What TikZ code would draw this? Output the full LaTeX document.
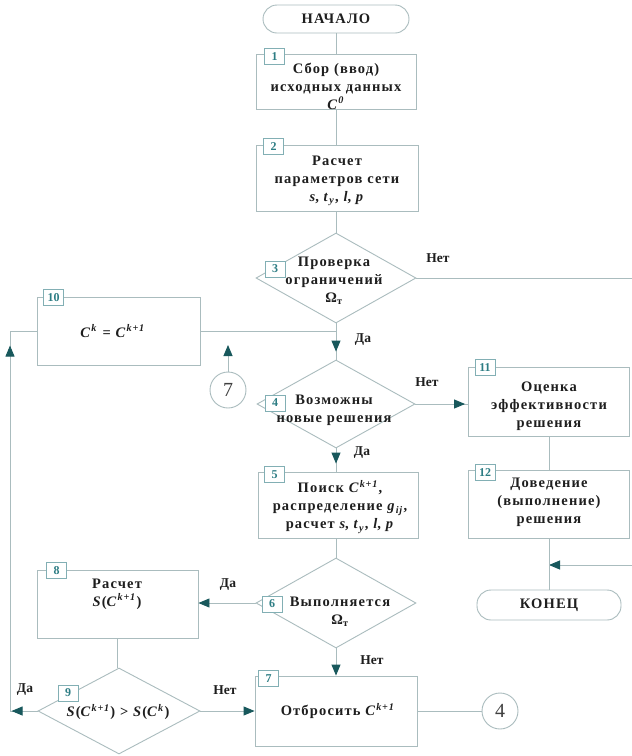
\documentclass[tikz,border=0pt]{standalone}
\usepackage{fontspec}
\setmainfont{Liberation Serif}
\usetikzlibrary{shapes.geometric,arrows.meta,decorations.markings}
\definecolor{ln}{RGB}{170,188,190}
\definecolor{tealnum}{RGB}{45,125,132}
\definecolor{numbd}{RGB}{130,175,180}
\definecolor{arr}{RGB}{24,88,92}
\definecolor{txt}{RGB}{30,30,30}
\newcommand\Cv[1]{\textit{C}\textsuperscript{\textit{#1}}}
\newcommand\Om{Ω\textsubscript{т}}
\begin{document}
\begin{tikzpicture}[x=1pt,y=-1pt,
  every node/.style={text=txt},
  tx/.style={align=center,font=\fontsize{14.5}{18}\selectfont\bfseries\addfontfeature{LetterSpace=8}},
  lab/.style={font=\fontsize{13.5}{14}\selectfont\bfseries},
  box/.style={draw=ln,line width=0.9pt,fill=white,inner sep=0pt},
  dia/.style={draw=ln,line width=0.9pt,fill=white,diamond,inner sep=0pt},
  term/.style={draw=ln,line width=0.9pt,fill=white,rounded corners=14pt,inner sep=0pt},
  num/.style={draw=numbd,fill=white,line width=0.8pt,text=tealnum,font=\fontsize{12}{12}\selectfont\bfseries,minimum width=20pt,minimum height=16pt,inner sep=0pt},
  conn/.style={draw=ln,line width=0.9pt},
  tip/.style={-{Triangle[length=11pt,width=9pt,color=arr]}},
  arrowat/.style={postaction={decorate,decoration={markings,mark=at position #1 with {\arrow{Triangle[length=11pt,width=9pt,color=arr]}}}}},
  circ/.style={draw=ln,line width=0.9pt,fill=white,circle,minimum size=36pt,inner sep=0pt,font=\fontsize{20}{20}\selectfont,text=black!75}
]
\useasboundingbox[fill=white] (0,0) rectangle (632,756);

% shapes
\node[term,minimum width=146pt,minimum height=28pt] (start) at (336,19) {};
\node[box,minimum width=160pt,minimum height=55pt] (b1) at (336,82) {};
\node[box,minimum width=162pt,minimum height=66pt] (b2) at (337,178) {};
\node[dia,minimum width=160pt,minimum height=90pt] (d3) at (336,278) {};
\node[box,minimum width=163pt,minimum height=68pt] (b10) at (118.5,331) {};
\node[circ] (c7) at (228,390) {7};
\node[dia,minimum width=158pt,minimum height=88pt] (d4) at (336,404) {};
\node[box,minimum width=161pt,minimum height=69pt] (b11) at (549,402) {};
\node[box,minimum width=161pt,minimum height=68pt] (b12) at (549,504) {};
\node[box,minimum width=160pt,minimum height=66pt] (b5) at (338,505) {};
\node[term,minimum width=144pt,minimum height=30pt] (end) at (549,605) {};
\node[dia,minimum width=160pt,minimum height=90pt] (d6) at (336,603) {};
\node[box,minimum width=161pt,minimum height=68pt] (b8) at (117.5,604) {};
\node[dia,minimum width=162pt,minimum height=86pt] (d9) at (119,711) {};
\node[box,minimum width=162pt,minimum height=70pt] (b7) at (336,711) {};
\node[circ] (c4) at (500,711) {4};

% coordinates
\coordinate (e3) at (632,278);
\coordinate (r5) at (632,565);
\coordinate (j12) at (549,565);
\coordinate (j10) at (336,331);
\coordinate (cl1) at (10,711);
\coordinate (cl2) at (10,331);
\coordinate (c7up) at (228,345);

% connectors
\draw[conn] (start.south) -- (b1.north);
\draw[conn] (b1.south) -- (b1.south |- b2.north);
\draw[conn] (d3.north |- b2.south) -- (d3.north);
\draw[conn] (d3.east) -- (e3);
\draw[conn,tip] (r5) -- (j12);
\draw[conn] (b11.south) -- (b12.north);
\draw[conn] (b12.south) -- (end.north);
\draw[conn,arrowat=-8pt] (d3.south) -- (d4.north);
\draw[conn] (b10.east) -- (j10);
\draw[conn,tip] (c7.north) -- (c7up);
\draw[conn,arrowat=-3pt] (d4.east) -- (d4.east -| b11.west);
\draw[conn,arrowat=-8pt] (d4.south) -- (d4.south |- b5.north);
\draw[conn] (d6.north |- b5.south) -- (d6.north);
\draw[conn,tip] (d6.west) -- (d6.west -| b8.east);
\draw[conn,tip] (d6.south) -- (b7.north);
\draw[conn] (b8.south) -- (b8.south |- d9.north);
\draw[conn,tip] (d9.east) -- (b7.west);
\draw[conn,arrowat=26pt,arrowat=393pt] (d9.west) -- (cl1) -- (cl2) -- (b10.west);
\draw[conn] (b7.east) -- (c4.west);

% texts
\node[tx] (tstart) at (start) {НАЧАЛО};
\node[tx] (tend) at (end) {КОНЕЦ};
\node[tx] (t1) at (336,86) {Сбор (ввод)\\исходных данных\\\Cv{0}};
\node[tx] (t2) at (337,181) {Расчет\\параметров сети\\\textit{s}, \textit{t}\textsubscript{\textit{y}}, \textit{l}, \textit{p}};
\node[tx] (t3) at (334,281) {Проверка\\ограничений\\\Om};
\node[tx] (t4) at (334,410) {Возможны\\новые решения};
\node[tx] (t5) at (340,507) {Поиск \Cv{k+1},\\распределение \textit{g}\textsubscript{\textit{ij}},\\расчет \textit{s}, \textit{t}\textsubscript{\textit{y}}, \textit{l}, \textit{p}};
\node[tx] (t6) at (340,612) {Выполняется\\\Om};
\node[tx] (t7) at (338,711) {Отбросить \Cv{k+1}};
\node[tx] (t8) at (117,594) {Расчет\\\textit{S}(\Cv{k+1})};
\node[tx] (t9) at (118,712) {\textit{S}(\Cv{k+1}) > \textit{S}(\Cv{k})};
\node[tx] (t10) at (113,331) {\Cv{k} = \Cv{k+1}};
\node[tx] (t11) at (549,406) {Оценка\\эффективности\\решения};
\node[tx] (t12) at (549,502) {Доведение\\(выполнение)\\решения};

% labels
\node[lab] (l3n) at (438,258) {Нет};
\node[lab] (l3y) at (363,340) {Да};
\node[lab] (l4n) at (427,382) {Нет};
\node[lab] (l4y) at (362,453) {Да};
\node[lab] (l6y) at (228,585) {Да};
\node[lab] (l6n) at (372,660) {Нет};
\node[lab] (l9n) at (225,690) {Нет};
\node[lab] (l9y) at (25,690) {Да};

% number tags
\node[num] (n1) at ([xshift=19pt,yshift=-2pt]b1.north west) {1};
\node[num] (n2) at ([xshift=18pt,yshift=-2pt]b2.north west) {2};
\node[num] (n3) at (275,269) {3};
\node[num] (n10) at ([xshift=17pt,yshift=-1pt]b10.north west) {10};
\node[num] (n4) at (275,403) {4};
\node[num] (n11) at ([xshift=17pt,yshift=0pt]b11.north west) {11};
\node[num] (n12) at ([xshift=17pt,yshift=-3pt]b12.north west) {12};
\node[num] (n5) at ([xshift=17pt,yshift=-3pt]b5.north west) {5};
\node[num] (n6) at (272,604) {6};
\node[num] (n8) at ([xshift=20pt,yshift=-1pt]b8.north west) {8};
\node[num] (n9) at (68,693) {9};
\node[num] (n7) at ([xshift=14pt,yshift=-3pt]b7.north west) {7};
\end{tikzpicture}
\end{document}
